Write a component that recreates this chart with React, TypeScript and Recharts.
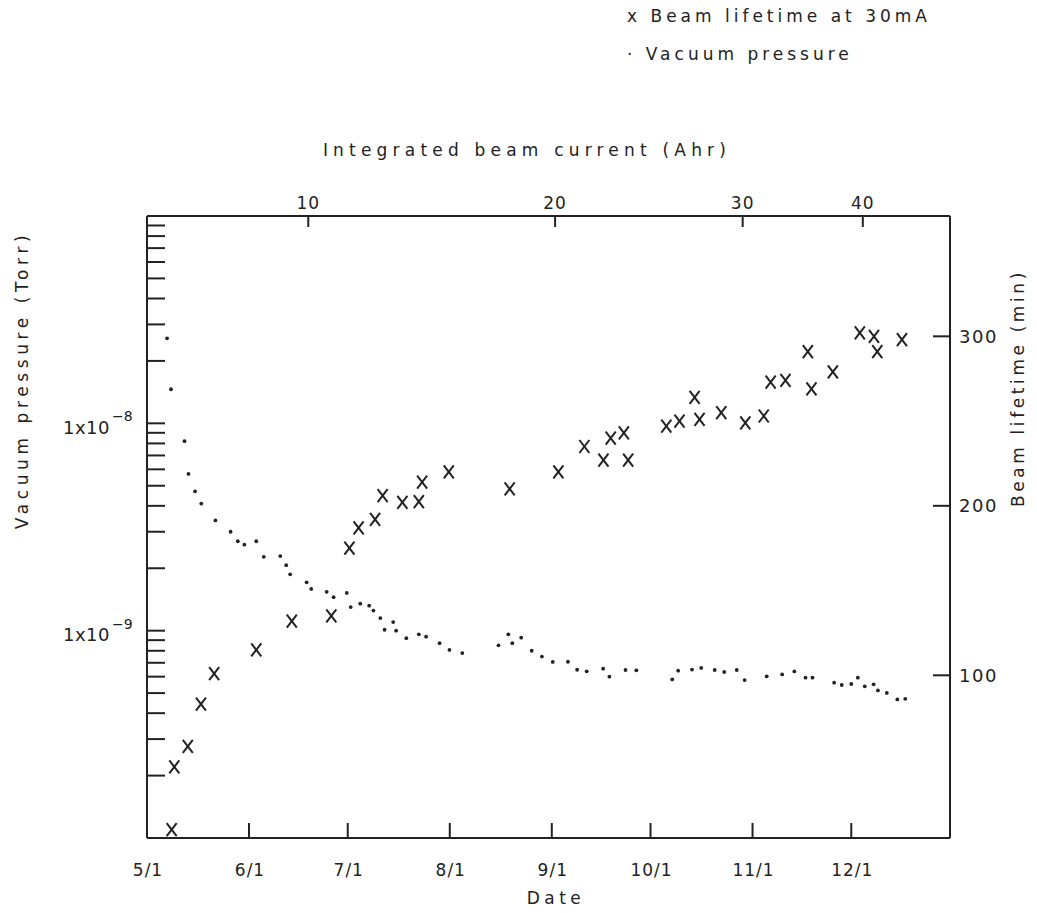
import React from "react";
import { ScatterChart, Scatter, XAxis, YAxis } from "recharts";

const INK = "#222";
const FONT = "'DejaVu Sans', sans-serif";

// bottom axis: days counted from 5/1
const dateTicks = [0, 31, 61, 92, 123, 153, 184, 214];
const dateLabels = ["5/1", "6/1", "7/1", "8/1", "9/1", "10/1", "11/1", "12/1"];

// top axis: integrated beam current, placed at the date it was reached
const currentTicks = [49, 124, 181, 217.5];
const currentLabels = ["10", "20", "30", "40"];

const pressureTicks = [
  2e-10, 3e-10, 4e-10, 5e-10, 6e-10, 7e-10, 8e-10, 9e-10,
  1e-9, 2e-9, 3e-9, 4e-9, 5e-9, 6e-9, 7e-9, 8e-9, 9e-9,
  1e-8, 2e-8, 3e-8, 4e-8, 5e-8, 6e-8, 7e-8, 8e-8, 9e-8,
];
const pressureMajors = [1e-9, 1e-8];
const pressureExponents = ["−9", "−8"];

const lifetimeTicks = [100, 200, 300];

const pressureDays = [
  6.1, 7.3, 11.4, 12.6, 14.6, 16.5, 20.8, 25.4, 27.6, 29.6,
  33.2, 35.5, 40.5, 42.3, 43.5, 48.5, 49.9, 54.6, 56.7, 60.7,
  61.9, 64.8, 67.5, 68.8, 70.9, 72.2, 74.8, 75.7, 78.8, 82.6,
  84.8, 88.9, 91.9, 95.8, 106.8, 109.8, 111.0, 113.7, 116.9, 120.0,
  123.3, 127.9, 130.7, 133.6, 138.6, 140.5, 145.4, 148.7, 159.6, 161.4,
  165.6, 168.4, 172.5, 175.4, 179.2, 181.6, 188.3, 193.0, 196.7, 200.1,
  202.2, 208.8, 211.1, 214.0, 216.0, 218.1, 220.8, 222.1, 224.8, 228.0, 230.4,
];
const pressureValues = [
  2.57e-8, 1.46e-8, 8.2e-9, 5.7e-9, 4.7e-9, 4.1e-9, 3.4e-9, 3.0e-9, 2.7e-9, 2.6e-9,
  2.7e-9, 2.27e-9, 2.29e-9, 2.07e-9, 1.87e-9, 1.71e-9, 1.59e-9, 1.54e-9, 1.45e-9, 1.52e-9,
  1.3e-9, 1.35e-9, 1.32e-9, 1.25e-9, 1.15e-9, 1.01e-9, 1.1e-9, 1.0e-9, 9.2e-10, 9.6e-10,
  9.35e-10, 8.7e-10, 8.07e-10, 7.8e-10, 8.5e-10, 9.6e-10, 8.7e-10, 9.25e-10, 8.0e-10, 7.5e-10,
  7.07e-10, 7.08e-10, 6.48e-10, 6.37e-10, 6.56e-10, 6.0e-10, 6.46e-10, 6.44e-10, 5.82e-10, 6.41e-10,
  6.49e-10, 6.61e-10, 6.46e-10, 6.32e-10, 6.46e-10, 5.78e-10, 6.02e-10, 6.15e-10, 6.36e-10, 5.93e-10,
  5.93e-10, 5.61e-10, 5.47e-10, 5.53e-10, 5.93e-10, 5.39e-10, 5.51e-10, 5.15e-10, 5.01e-10, 4.66e-10, 4.69e-10,
];

const lifetimeDays = [
  7.5, 8.3, 12.4, 16.4, 20.4, 33.2, 44.0, 56.0, 61.5, 64.3,
  69.3, 71.6, 77.6, 82.6, 83.6, 91.7, 110.2, 125.0, 132.9, 138.7,
  140.9, 144.9, 146.2, 157.8, 161.8, 166.4, 167.9, 174.5, 181.8, 187.4,
  189.5, 194.0, 200.8, 201.9, 208.4, 216.6, 220.9, 221.9, 229.4,
];
const lifetimeValues = [
  9, 46, 58, 83, 101, 115, 132, 135, 175, 187,
  192, 206, 202, 202.5, 214, 220, 210, 220, 235, 227,
  240, 243, 227, 247, 250, 264, 251, 255, 249, 253,
  273, 274, 291, 269, 279, 302, 300, 291, 298,
];

const pressureData = pressureDays.map((day, i) => ({ day, p: pressureValues[i] }));
const lifetimeData = lifetimeDays.map((day, i) => ({ day, t: lifetimeValues[i] }));

const txt = { fontFamily: FONT, fill: INK };

const DateTick = (props: any) => {
  const { x, y, payload } = props;
  const i = dateTicks.indexOf(payload.value);
  return (
    <g>
      {i > 0 && <line x1={x} y1={y} x2={x} y2={y - 15} stroke={INK} strokeWidth={2} />}
      <text x={x + 1} y={y + 32} textAnchor="middle" dominantBaseline="central" fontSize={17} letterSpacing={1} {...txt}>
        {dateLabels[i]}
      </text>
    </g>
  );
};

const CurrentTick = (props: any) => {
  const { x, y, payload } = props;
  const i = currentTicks.indexOf(payload.value);
  return (
    <g>
      <line x1={x} y1={y} x2={x} y2={y + 11} stroke={INK} strokeWidth={2} />
      <text x={x} y={y - 13} textAnchor="middle" dominantBaseline="central" fontSize={17} letterSpacing={1} {...txt}>
        {currentLabels[i]}
      </text>
    </g>
  );
};

const PressureTick = (props: any) => {
  const { x, y, payload } = props;
  const m = pressureMajors.indexOf(payload.value);
  return (
    <g>
      <line x1={x} y1={y} x2={x + 18} y2={y} stroke={INK} strokeWidth={2} />
      {m >= 0 && (
        <>
          <text x={x - 37} y={y + 4} textAnchor="end" dominantBaseline="central" fontSize={18} letterSpacing={0.5} {...txt}>
            1x10
          </text>
          <text x={x - 35} y={y - 7} textAnchor="start" dominantBaseline="central" fontSize={14} {...txt}>
            {pressureExponents[m]}
          </text>
        </>
      )}
    </g>
  );
};

const LifetimeTick = (props: any) => {
  const { x, y, payload } = props;
  return (
    <g>
      <line x1={x - 17} y1={y} x2={x} y2={y} stroke={INK} strokeWidth={2} />
      <text x={x + 9} y={y} textAnchor="start" dominantBaseline="central" fontSize={18} letterSpacing={1.5} {...txt}>
        {payload.value}
      </text>
    </g>
  );
};

const Dot = (props: any) => <circle cx={props.cx} cy={props.cy} r={1.9} fill={INK} />;

const Cross = (props: any) => {
  const { cx, cy } = props;
  return (
    <g stroke={INK} strokeWidth={2}>
      <line x1={cx - 5} y1={cy - 6.5} x2={cx + 5} y2={cy + 6.5} />
      <line x1={cx + 5} y1={cy - 6.5} x2={cx - 5} y2={cy + 6.5} />
    </g>
  );
};

const overlay = (style: React.CSSProperties): React.CSSProperties => ({
  position: "absolute",
  whiteSpace: "nowrap",
  fontFamily: FONT,
  color: INK,
  fontSize: 17,
  ...style,
});

export default function App() {
  const axisLine = { stroke: INK, strokeWidth: 2 };
  return (
    <div style={{ position: "absolute", left: 0, top: 0, width: 1037, height: 913, background: "#fff" }}>
      <ScatterChart width={1037} height={913} margin={{ top: 186, right: 27, bottom: 45, left: 87 }}>
        <XAxis
          xAxisId="date"
          dataKey="day"
          type="number"
          domain={[0, 244]}
          allowDataOverflow
          ticks={dateTicks}
          interval={0}
          tickSize={0}
          tickMargin={0}
          tickLine={false}
          axisLine={axisLine}
          tick={DateTick}
          height={30}
        />
        <XAxis
          xAxisId="ahr"
          orientation="top"
          dataKey="day"
          type="number"
          domain={[0, 244]}
          allowDataOverflow
          ticks={currentTicks}
          interval={0}
          tickSize={0}
          tickMargin={0}
          tickLine={false}
          axisLine={axisLine}
          tick={CurrentTick}
          height={30}
        />
        <YAxis
          yAxisId="p"
          dataKey="p"
          type="number"
          scale="log"
          domain={[1e-10, 1e-7]}
          allowDataOverflow
          ticks={pressureTicks}
          interval={0}
          tickSize={0}
          tickMargin={0}
          tickLine={false}
          axisLine={axisLine}
          tick={PressureTick}
          width={60}
        />
        <YAxis
          yAxisId="t"
          orientation="right"
          dataKey="t"
          type="number"
          domain={[4, 371]}
          allowDataOverflow
          ticks={lifetimeTicks}
          interval={0}
          tickSize={0}
          tickMargin={0}
          tickLine={false}
          axisLine={axisLine}
          tick={LifetimeTick}
          width={60}
        />
        <Scatter data={pressureData} xAxisId="date" yAxisId="p" shape={Dot} isAnimationActive={false} />
        <Scatter data={lifetimeData} xAxisId="date" yAxisId="t" shape={Cross} isAnimationActive={false} />
      </ScatterChart>

      <div style={overlay({ left: 627, top: 6, letterSpacing: 4 })}>x Beam lifetime at 30mA</div>
      <div style={overlay({ left: 627, top: 44, letterSpacing: 4 })}>· Vacuum pressure</div>
      <div style={overlay({ left: 527, top: 150, transform: "translate(-50%,-50%)", letterSpacing: 5.2 })}>
        Integrated beam current (Ahr)
      </div>
      <div style={overlay({ left: 556, top: 898, transform: "translate(-50%,-50%)", letterSpacing: 4.5 })}>Date</div>
      <div style={overlay({ left: 22, top: 380, transform: "translate(-50%,-50%) rotate(-90deg)", letterSpacing: 4.6 })}>
        Vacuum pressure (Torr)
      </div>
      <div style={overlay({ left: 1018, top: 388, transform: "translate(-50%,-50%) rotate(-90deg)", letterSpacing: 3.6 })}>
        Beam lifetime (min)
      </div>
    </div>
  );
}
